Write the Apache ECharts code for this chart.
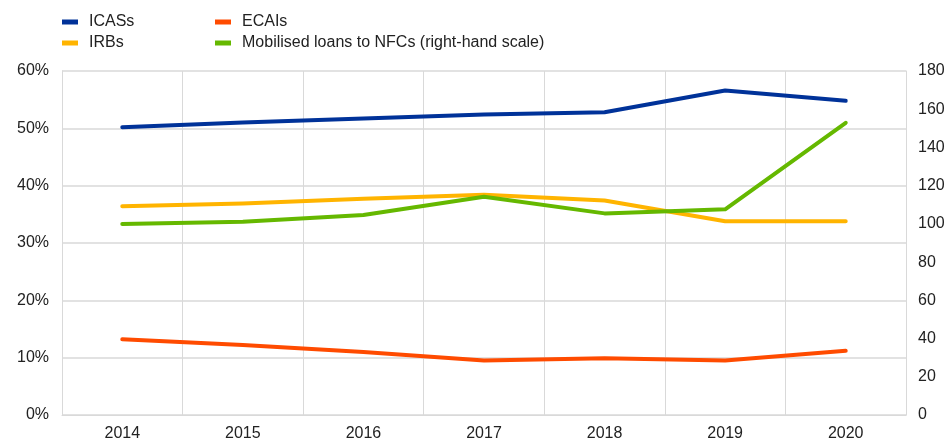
<!DOCTYPE html>
<html><head><meta charset="utf-8">
<script src="https://cdn.jsdelivr.net/npm/echarts@6/dist/echarts.min.js"></script>
<style>html,body{margin:0;padding:0;background:#fff}#c{width:949px;height:441px}</style>
</head><body><div id="c"></div>
<script>
const years = ['2014','2015','2016','2017','2018','2019','2020'];
const icass = [50.2, 51.0, 51.7, 52.4, 52.8, 56.6, 54.8];
const irbs = [36.4, 36.9, 37.7, 38.4, 37.4, 33.8, 33.8];
const ecais = [13.2, 12.2, 11.0, 9.5, 9.9, 9.5, 11.2];
const loans = [99.9, 101.1, 104.6, 114.2, 105.5, 107.6, 152.9];
const leftTicks = [0, 10, 20, 30, 40, 50, 60];
const rightTicks = [0, 20, 40, 60, 80, 100, 120, 140, 160, 180];

const font = 'Liberation Sans, Arial, sans-serif';
const txt = '#222';
const gridC = '#d9d9d9';
const chart = echarts.init(document.getElementById('c'));
const mk = (name, data, color, axis) => ({
  name, type: 'line', data, yAxisIndex: axis, symbol: 'none',
  lineStyle: {width: 4, color, cap: 'round', join: 'round'}, itemStyle: {color}
});
const legendText = {fontFamily: font, fontSize: 16, color: txt, padding: [0, 0, 0, 6]};
chart.setOption({
  animation: false,
  grid: {left: 62, right: 43, top: 71, bottom: 26, containLabel: false, outerBoundsMode: 'none'},
  legend: [
    {data: ['ICASs', 'IRBs'], orient: 'vertical', left: 57, top: 9, itemWidth: 16, itemHeight: 5, itemGap: 5,
     textStyle: legendText, icon: 'rect'},
    {data: ['ECAIs', 'Mobilised loans to NFCs (right-hand scale)'], orient: 'vertical', left: 210, top: 9, itemWidth: 16, itemHeight: 5, itemGap: 5,
     textStyle: legendText, icon: 'rect'}
  ],
  xAxis: {
    type: 'category', data: years, boundaryGap: true,
    axisLine: {show: true, lineStyle: {color: gridC}},
    axisTick: {show: false},
    splitLine: {show: true, lineStyle: {color: gridC, width: 1}},
    axisLabel: {fontFamily: font, fontSize: 16, color: txt, margin: 11}
  },
  yAxis: [
    {type: 'value', min: leftTicks[0], max: leftTicks[leftTicks.length-1], interval: 10,
     axisLine: {show: true, lineStyle: {color: gridC}}, axisTick: {show: false},
     splitLine: {show: true, lineStyle: {color: gridC, width: 1.5}},
     axisLabel: {fontFamily: font, fontSize: 16, color: txt, margin: 13, padding: [4, 0, 0, 0], formatter: '{value}%'}},
    {type: 'value', min: rightTicks[0], max: rightTicks[rightTicks.length-1], interval: 20,
     axisLine: {show: true, lineStyle: {color: gridC}}, axisTick: {show: false},
     splitLine: {show: false},
     axisLabel: {fontFamily: font, fontSize: 16, color: txt, margin: 12, padding: [4, 0, 0, 0]}}
  ],
  series: [
    mk('ICASs', icass, '#003299', 0),
    mk('IRBs', irbs, '#FFB400', 0),
    mk('ECAIs', ecais, '#FF4B00', 0),
    mk('Mobilised loans to NFCs (right-hand scale)', loans, '#65B800', 1)
  ]
});
</script></body></html>
